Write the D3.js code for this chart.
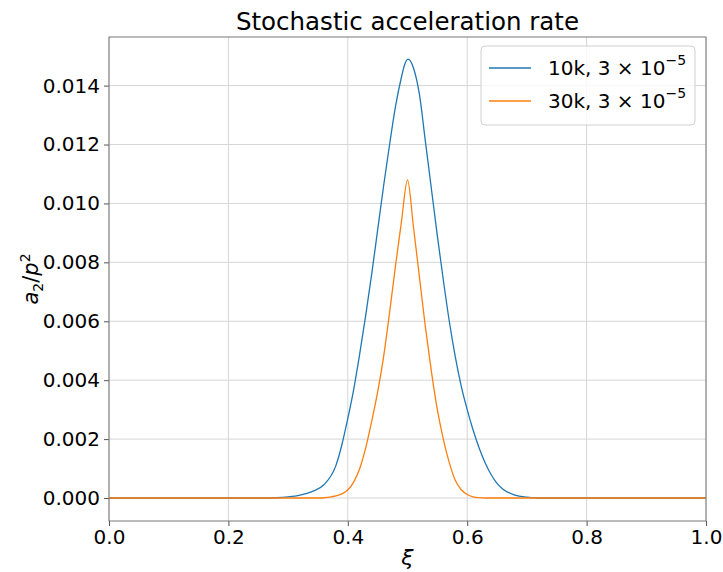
<!DOCTYPE html>
<html>
<head>
<meta charset="utf-8">
<script src="https://cdn.jsdelivr.net/npm/d3@7"></script>
<style>
  body { margin: 0; background: #fff; }
  text { font-family: "DejaVu Sans", sans-serif; fill: #000; }
</style>
</head>
<body>
<script>
// values
let xi10k = [0, 0.26, 0.28, 0.30, 0.32, 0.34, 0.36, 0.38, 0.39, 0.40, 0.41, 0.42, 0.43, 0.44, 0.45, 0.46, 0.47, 0.48, 0.49, 0.495, 0.501,
             0.51, 0.52, 0.53, 0.54, 0.55, 0.56, 0.57, 0.58, 0.59, 0.60, 0.61, 0.62, 0.63, 0.64, 0.65, 0.66, 0.68, 0.70, 0.72, 1];
let a10k  = [0, 0, 0.00001, 0.00004, 0.0001, 0.00022, 0.00045, 0.0011, 0.0018, 0.0027, 0.0037, 0.0049, 0.0062, 0.0076, 0.0091, 0.0106, 0.0120, 0.0133, 0.0143, 0.0147, 0.0149,
             0.0146, 0.0137, 0.0121, 0.0105, 0.0089, 0.0074, 0.0060, 0.0048, 0.0038, 0.0030, 0.0023, 0.0017, 0.0012, 0.0008, 0.0005, 0.0003, 0.0001, 0.00003, 0, 0];

let xi30k = [0, 0.35, 0.36, 0.37, 0.38, 0.39, 0.40, 0.41, 0.42, 0.43, 0.44, 0.45, 0.46, 0.47, 0.48, 0.49, 0.50,
             0.51, 0.52, 0.53, 0.54, 0.55, 0.56, 0.57, 0.58, 0.59, 0.60, 0.61, 0.62, 0.63, 1];
let a30k  = [0, 0, 0.00001, 0.00003, 0.00007, 0.00014, 0.00027, 0.00055, 0.0010, 0.0017, 0.0026, 0.0036, 0.0048, 0.0063, 0.0079, 0.0094, 0.0108,
             0.0092, 0.0075, 0.0058, 0.0043, 0.0030, 0.0020, 0.0012, 0.0006, 0.00028, 0.00012, 0.00004, 0.00001, 0, 0];

let xTicks = [0.0, 0.2, 0.4, 0.6, 0.8, 1.0];
let yTicks = [0.000, 0.002, 0.004, 0.006, 0.008, 0.010, 0.012, 0.014];
let seriesNames = ["10k", "30k"];
let colors = ["#1f77b4", "#ff7f0e"];

let width = 723, height = 572,
    margin = {left: 109, right: 17, top: 37, bottom: 51};

let svg = d3.select('body').append('svg')
    .attr('width', width)
    .attr('height', height);

let x = d3.scaleLinear().domain([0, 1]).range([margin.left, width - margin.right]);
let y = d3.scaleLinear().domain([-0.00078, 0.01565]).range([height - margin.bottom, margin.top]);

// grid
svg.append('g').selectAll('line').data(xTicks).enter().append('line')
    .attr('x1', d => x(d)).attr('x2', d => x(d))
    .attr('y1', y.range()[0]).attr('y2', y.range()[1])
    .attr('stroke', '#d6d6d6').attr('stroke-width', 1);
svg.append('g').selectAll('line').data(yTicks).enter().append('line')
    .attr('y1', d => y(d)).attr('y2', d => y(d))
    .attr('x1', x.range()[0]).attr('x2', x.range()[1])
    .attr('stroke', '#d6d6d6').attr('stroke-width', 1);

// curves
let series = [
    {xs: xi10k, ys: a10k},
    {xs: xi30k, ys: a30k}
];
let line = d3.line()
    .x(d => x(d[0]))
    .y(d => y(d[1]))
    .curve(d3.curveMonotoneX);

svg.append('g').selectAll('path').data(series).enter().append('path')
    .attr('d', s => line(s.xs.map((v, i) => [v, s.ys[i]])))
    .attr('fill', 'none')
    .attr('stroke', (s, i) => colors[i])
    .attr('stroke-width', 1.3);

// axes
let xAxis = svg.append('g')
    .attr('transform', `translate(0,${height - margin.bottom})`)
    .call(d3.axisBottom(x).tickValues(xTicks).tickFormat(d3.format('.1f')).tickSize(5).tickPadding(4));
let yAxis = svg.append('g')
    .attr('transform', `translate(${margin.left},0)`)
    .call(d3.axisLeft(y).tickValues(yTicks).tickFormat(d3.format('.3f')).tickSize(5).tickPadding(4));
[xAxis, yAxis].forEach(g => {
    g.select('.domain').remove();
    g.selectAll('line').attr('stroke', '#555');
    g.selectAll('text').style('font-size', '20px').style('font-family', '"DejaVu Sans", sans-serif');
});

// frame
svg.append('rect')
    .attr('x', margin.left).attr('y', margin.top)
    .attr('width', width - margin.left - margin.right)
    .attr('height', height - margin.top - margin.bottom)
    .attr('fill', 'none').attr('stroke', '#777').attr('stroke-width', 1);

// title and labels
svg.append('text')
    .attr('x', (margin.left + width - margin.right) / 2).attr('y', 30)
    .attr('text-anchor', 'middle').style('font-size', '24.5px')
    .text('Stochastic acceleration rate');

svg.append('text')
    .attr('x', x(0.5)).attr('y', 565)
    .attr('text-anchor', 'middle').style('font-size', '22px').style('font-style', 'italic')
    .text('ξ');

let yl = svg.append('text')
    .attr('transform', `translate(38,${(margin.top + height - margin.bottom) / 2}) rotate(-90)`)
    .attr('text-anchor', 'middle').style('font-size', '21px');
yl.append('tspan').style('font-style', 'italic').text('a');
yl.append('tspan').attr('dy', 5).style('font-size', '14px').text('2');
yl.append('tspan').attr('dy', -5).text('/');
yl.append('tspan').style('font-style', 'italic').text('p');
yl.append('tspan').attr('dy', -8).style('font-size', '14px').text('2');

// legend
let lg = svg.append('g').attr('transform', 'translate(481,46)');
lg.append('rect')
    .attr('width', 214).attr('height', 79).attr('rx', 4)
    .attr('fill', 'rgba(255,255,255,0.8)').attr('stroke', '#d0d0d0');
seriesNames.forEach((n, i) => {
    let ly = 22 + i * 33;
    lg.append('line').attr('x1', 8).attr('x2', 50).attr('y1', ly).attr('y2', ly)
        .attr('stroke', colors[i]).attr('stroke-width', 1.3);
    let t = lg.append('text').attr('x', 67).attr('y', ly + 7).style('font-size', '20px');
    t.append('tspan').text(n + ', 3 × 10');
    t.append('tspan').attr('dy', -10).style('font-size', '14px').text('−5');
});
</script>
</body>
</html>
